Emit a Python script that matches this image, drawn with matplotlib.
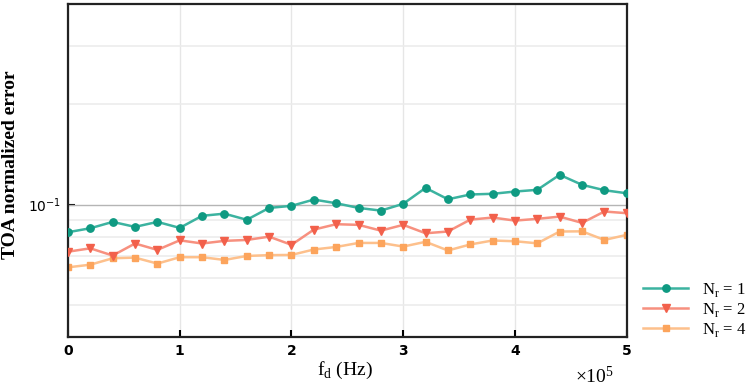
import numpy as np
import matplotlib
matplotlib.use("Agg")
import matplotlib.pyplot as plt
from matplotlib.ticker import FixedLocator, NullFormatter, FixedFormatter

# ====== data ======
fd = [0.0, 0.2, 0.4, 0.6, 0.8, 1.0, 1.2, 1.4, 1.6, 1.8, 2.0, 2.2, 2.4,
      2.6, 2.8, 3.0, 3.2, 3.4, 3.6, 3.8, 4.0, 4.2, 4.4, 4.6, 4.8, 5.0]

err_nr1 = [0.0826, 0.0849, 0.0887, 0.0857, 0.0887, 0.0851, 0.0925, 0.0939,
           0.0900, 0.0977, 0.0991, 0.1035, 0.1009, 0.0977, 0.0959, 0.1005,
           0.1122, 0.1037, 0.1072, 0.1077, 0.1094, 0.1107, 0.1228, 0.1146,
           0.1104, 0.1081]
err_nr2 = [0.0722, 0.0739, 0.0703, 0.0764, 0.0731, 0.0781, 0.0764, 0.0778,
           0.0783, 0.0801, 0.0757, 0.0841, 0.0873, 0.0869, 0.0835, 0.0869,
           0.0820, 0.0830, 0.0901, 0.0914, 0.0895, 0.0906, 0.0920, 0.0881,
           0.0953, 0.0942]
err_nr4 = [0.0648, 0.0660, 0.0690, 0.0693, 0.0665, 0.0695, 0.0695, 0.0682,
           0.0701, 0.0705, 0.0706, 0.0733, 0.0746, 0.0767, 0.0767, 0.0748,
           0.0773, 0.0728, 0.0759, 0.0780, 0.0776, 0.0765, 0.0830, 0.0831,
           0.0783, 0.0811]

labels = [r"N$_\mathregular{r}$ = 1", r"N$_\mathregular{r}$ = 2", r"N$_\mathregular{r}$ = 4"]

serif = "Liberation Serif"

fig = plt.figure(figsize=(7.47, 3.88), dpi=100)
ax = fig.add_axes([0.091, 0.131, 0.748, 0.859])

# lines + markers
ax.plot(fd, err_nr1, '-', color='#3cb3a0', lw=1.8, marker='o', ms=5.3,
        mfc='#0f9a82', mec='#0f9a82', label=labels[0], zorder=4)
ax.plot(fd, err_nr2, '-', color='#f7907f', lw=1.8, marker='v', ms=6.3,
        mfc='#f2604b', mec='#f2604b', label=labels[1], zorder=3)
ax.plot(fd, err_nr4, '-', color='#fdc08c', lw=1.8, marker='s', ms=4.6,
        mfc='#fca45c', mec='#fca45c', label=labels[2], zorder=2)

ax.set_yscale('log')
ax.set_xlim(0, 5)
ax.set_ylim(0.04, 0.4)

# ticks
ax.set_xticks([0, 1, 2, 3, 4, 5])
ax.set_xticklabels(['0', '1', '2', '3', '4', '5'], fontweight='bold', fontsize=10)
ax.yaxis.set_major_locator(FixedLocator([0.1]))
ax.yaxis.set_major_formatter(FixedFormatter([r'$\mathregular{10^{-1}}$']))
ax.yaxis.set_minor_locator(FixedLocator([0.05, 0.06, 0.07, 0.08, 0.09, 0.2, 0.3]))
ax.yaxis.set_minor_formatter(NullFormatter())
ax.tick_params(axis='both', which='major', direction='in', length=5, width=1.5, pad=5)
ax.tick_params(axis='y', which='major', labelsize=10)
ax.tick_params(axis='y', which='minor', length=0)
ax.tick_params(axis='x', top=False)

# grid
ax.grid(axis='x', which='major', color='#e6e6e6', lw=1)
ax.grid(axis='y', which='minor', color='#ececec', lw=1.2)
ax.axhline(0.1, color='#b5b5b5', lw=1, zorder=1)
ax.set_axisbelow(True)

for s in ax.spines.values():
    s.set_linewidth(1.6)
    s.set_color('#222222')

# axis titles placed in figure coords
fig.text(0.014, 0.575, "TOA normalized error", fontfamily=serif, fontweight='bold',
         fontsize=14, rotation=90, ha='center', va='center')
fig.text(0.462, 0.045, r"f$_\mathregular{d}$ (Hz)", fontfamily=serif, fontsize=14,
         ha='center', va='center')
fig.text(0.770, 0.012, r"$\mathregular{\times 10^5}$", fontfamily=serif, fontsize=14)

ax.legend(loc='upper left', bbox_to_anchor=(1.03, 0.168), frameon=False,
          prop={'family': serif, 'size': 12}, handlelength=2.7,
          labelspacing=0.1, handletextpad=0.8, borderpad=0, borderaxespad=0)

fig.savefig("out.png", dpi=100)
